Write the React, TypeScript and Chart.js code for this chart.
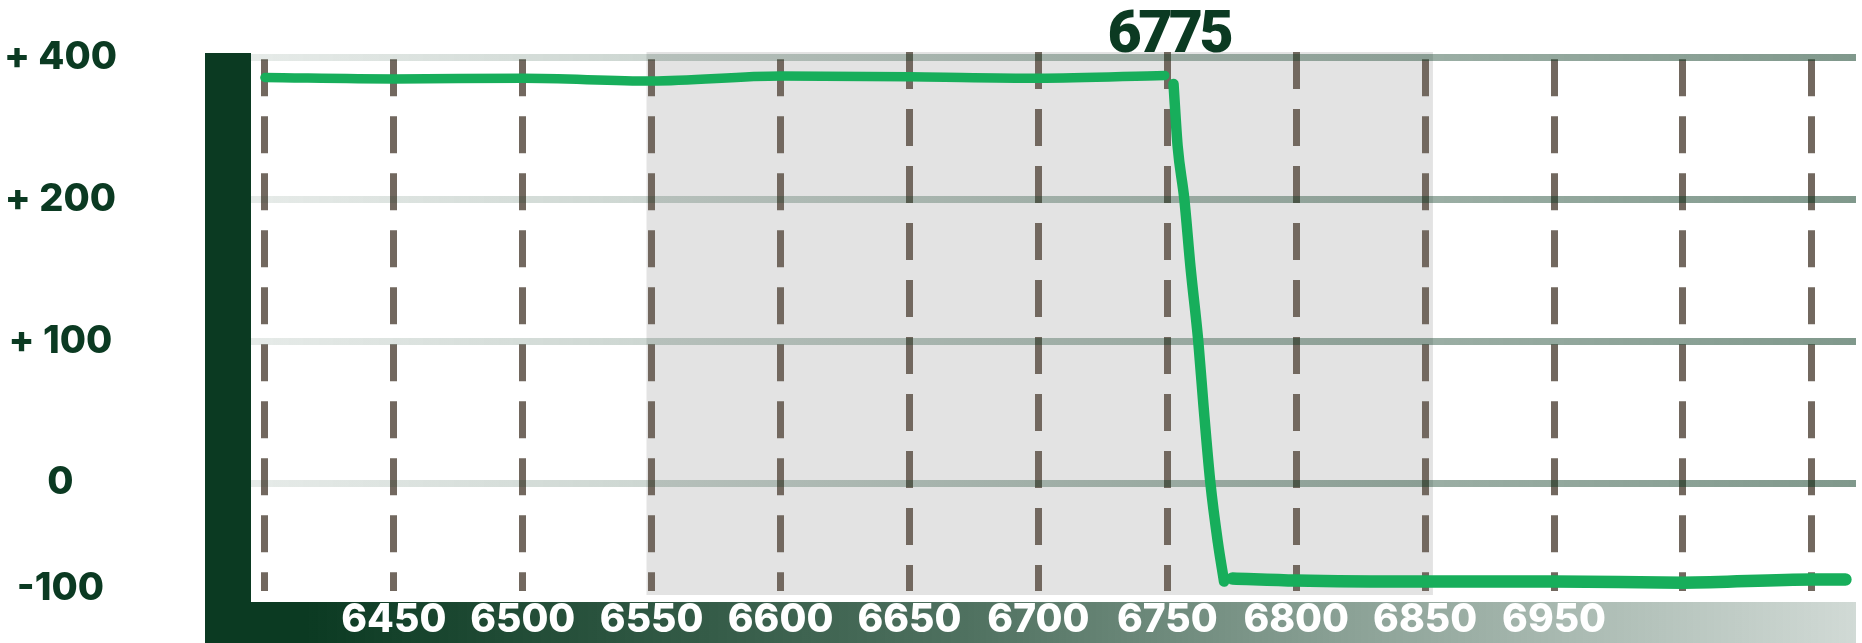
import React, { useEffect, useRef } from 'react';
import { Chart, registerables } from 'chart.js';

Chart.register(...registerables);

// ---- data ----
const strikes = [6400, 6450, 6500, 6550, 6600, 6650, 6700, 6749, 6750.5, 6752.4, 6754, 6756.6, 6759, 6762, 6764, 6766.7, 6769.6, 6772, 6773.5, 6775.3, 6800, 6850, 6900, 6950, 7000, 7013];
const values: (number | null)[] = [372, 370, 371, 367, 374, 373, 371, 375, null, 363, 275, 200, 152, 100, 55, 0, -56, -93, null, -90, -92, -93, -93, -94, -91, -91];

const gridStrikes = [6400, 6450, 6500, 6550, 6600, 6650, 6700, 6750, 6800, 6850, 6900, 6950, 7000];
const strikeLabels = ['', '6450', '6500', '6550', '6600', '6650', '6700', '6750', '6800', '6850', '6950', '', ''];
const shiftedDashStrikes = [6650, 6700, 6750, 6800];
const shadeRange = [6548, 6853];
const markerLabel = '6775';
const markerAnchor = 6750;

// non-linear y axis: tick values and their step positions
const yTickValues = [400, 200, 100, 0, -100];
const yTickLabels = ['+ 400', '+ 200', '+ 100', '0', '-100'];
const yAxisSteps = [4, 3, 2, 1, 0.2525];

const DARK = '#0b3a22';
const GREEN = '#17ae5b';

function toPos(v: number): number {
  const vs = [...yTickValues].reverse();
  const ps = [...yAxisSteps].reverse();
  for (let i = 0; i < vs.length - 1; i++) {
    if (v <= vs[i + 1] || i === vs.length - 2) {
      const t = (v - vs[i]) / (vs[i + 1] - vs[i]);
      return ps[i] + t * (ps[i + 1] - ps[i]);
    }
  }
  return ps[ps.length - 1];
}

export default function App() {
  const ref = useRef<HTMLCanvasElement>(null);

  useEffect(() => {
    document.body.style.margin = '0';
    const canvas = ref.current;
    if (!canvas) return;

    const decor = {
      id: 'decor',
      beforeDraw(chart: any) {
        const { ctx, chartArea: a, scales } = chart;
        const x = scales.x;
        ctx.save();
        const sx0 = x.getPixelForValue(shadeRange[0]);
        const sx1 = x.getPixelForValue(shadeRange[1]);
        ctx.fillStyle = '#e3e3e3';
        ctx.fillRect(sx0, a.top, sx1 - sx0, a.bottom + 4 - a.top);

        const barW = 46;
        ctx.fillStyle = DARK;
        ctx.fillRect(a.left - barW, a.top + 1, barW, chart.height - a.top - 1);

        const bandTop = a.bottom + 11;
        const g = ctx.createLinearGradient(a.left - barW, 0, a.right, 0);
        g.addColorStop(0, 'rgba(11,58,34,1)');
        g.addColorStop(0.06, 'rgba(11,58,34,1)');
        g.addColorStop(0.46, 'rgba(11,58,34,0.72)');
        g.addColorStop(0.69, 'rgba(11,58,34,0.48)');
        g.addColorStop(1, 'rgba(11,58,34,0.19)');
        ctx.fillStyle = g;
        ctx.fillRect(a.left - barW, bandTop, a.right - a.left + barW, chart.height - bandTop);
        ctx.restore();
      },
      afterDraw(chart: any) {
        const { ctx, chartArea: a, scales } = chart;
        ctx.save();
        ctx.font = '900 59px Roboto';
        try { (ctx as any).letterSpacing = '-3.5px'; } catch (e) {}
        ctx.fillStyle = DARK;
        ctx.textAlign = 'center';
        ctx.textBaseline = 'alphabetic';
        ctx.fillText(markerLabel, scales.x.getPixelForValue(markerAnchor) + 1.5, a.top);
        ctx.restore();
      },
    };

    const data = strikes.map((s, i) => ({ x: s, y: values[i] === null ? null : toPos(values[i] as number) }));

    const chart = new Chart(canvas, {
      type: 'line',
      data: {
        datasets: [
          {
            data: data as any,
            borderColor: GREEN,
            borderWidth: 10,
            borderCapStyle: 'round',
            borderJoinStyle: 'round',
            pointRadius: 0,
            spanGaps: false,
            cubicInterpolationMode: 'monotone',
            segment: {
              borderWidth: (c: any) => {
                const px = c.p0.parsed.x;
                return px < 6751 ? 9.5 : px < 6773 ? 10.5 : 12.5;
              },
            },
          } as any,
        ],
      },
      options: {
        animation: false,
        responsive: false,
        devicePixelRatio: 1,
        layout: { padding: { top: 52, right: 6, left: 0, bottom: 0 } },
        plugins: { legend: { display: false }, tooltip: { enabled: false }, title: { display: false } },
        scales: {
          x: {
            type: 'linear',
            min: 6394.6,
            max: 7017.1,
            afterBuildTicks: (s: any) => { s.ticks = gridStrikes.map((v) => ({ value: v })); },
            afterFit: (s: any) => { s.height = 52; s.paddingLeft = 0; s.paddingRight = 0; },
            ticks: {
              autoSkip: false,
              maxRotation: 0,
              minRotation: 0,
              color: '#ffffff',
              padding: 10,
              font: { family: 'Inter', size: 39, weight: '800', lineHeight: 1 } as any,
              callback: (_v: any, i: number) => strikeLabels[i],
            },
            grid: { color: '#72685f', lineWidth: 7, drawTicks: false },
            border: {
              display: false,
              dash: [37, 20],
              dashOffset: (c: any) => (c.tick && shiftedDashStrikes.includes(c.tick.value) ? 0 : 49.7),
            } as any,
          },
          y: {
            type: 'linear',
            min: 0.2384,
            max: 4.04,
            afterBuildTicks: (s: any) => { s.ticks = yAxisSteps.map((v) => ({ value: v })); },
            afterFit: (s: any) => { s.width = 251; s.paddingTop = 0; s.paddingBottom = 0; },
            ticks: {
              color: DARK,
              crossAlign: 'center',
              padding: 134,
              font: { family: 'Inter', size: 38, weight: '800' } as any,
              callback: (_v: any, i: number) => yTickLabels[i],
            },
            grid: {
              lineWidth: 7,
              drawTicks: false,
              color: (c: any) => {
                if (c.tick && c.tick.value < 0.5) return 'rgba(0,0,0,0)';
                const a = c.chart.chartArea;
                if (!a) return 'rgba(11,58,34,0.3)';
                const g = c.chart.ctx.createLinearGradient(a.left, 0, a.right, 0);
                g.addColorStop(0, 'rgba(11,58,34,0.1)');
                g.addColorStop(1, 'rgba(11,58,34,0.52)');
                return g;
              },
            },
            border: { display: false },
          },
        },
      },
      plugins: [decor],
    } as any);

    return () => chart.destroy();
  }, []);

  return (
    <div style={{ width: 1862, height: 643 }}>
      <canvas ref={ref} width={1862} height={643} style={{ display: 'block' }} />
    </div>
  );
}
